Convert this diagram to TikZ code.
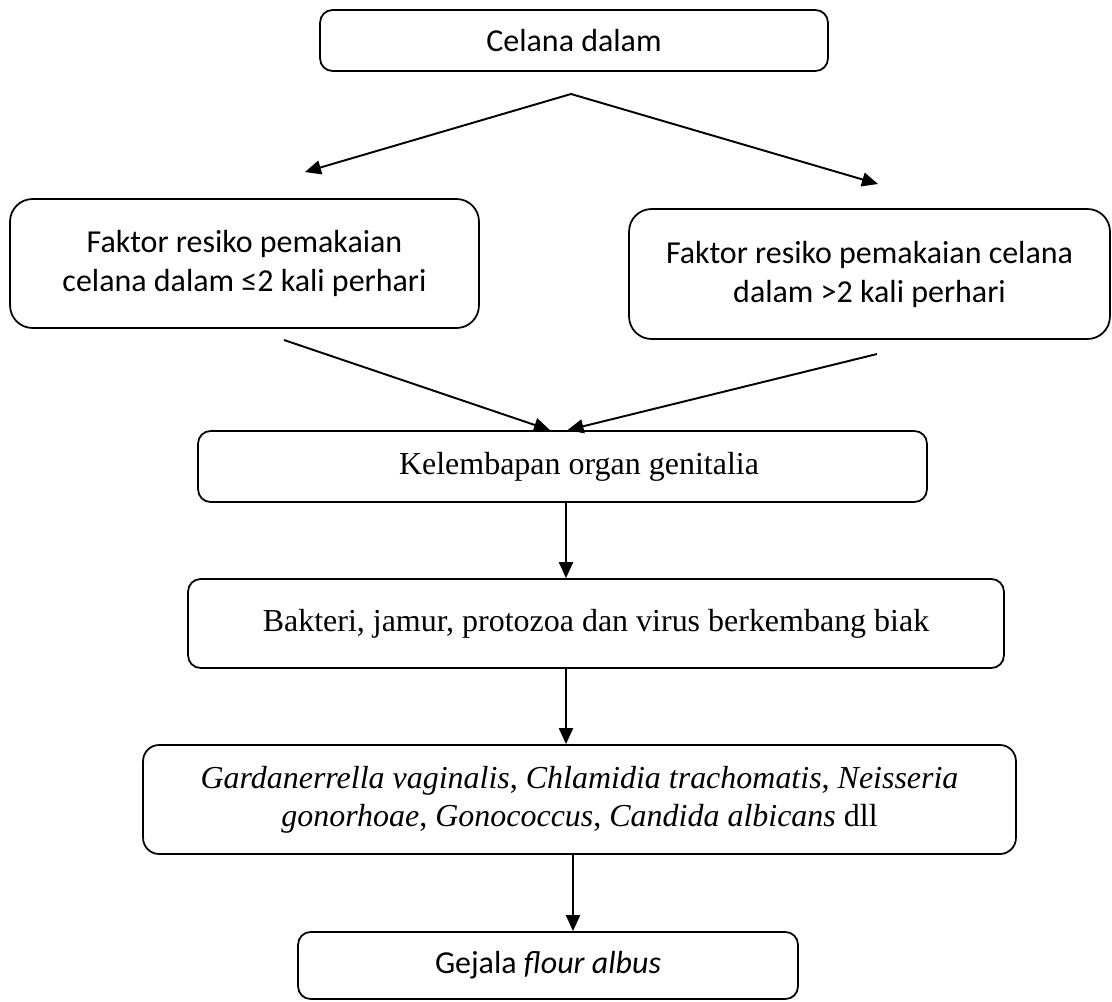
\documentclass[tikz,border=0pt]{standalone}
\usepackage{fontspec}
\setmainfont{Liberation Serif}
\newfontfamily\calibri{Carlito}
\usetikzlibrary{arrows.meta}

\begin{document}
\begin{tikzpicture}[x=0.02cm, y=-0.02cm,
    boks/.style={draw, line width=1pt, rounded corners=0.25cm, align=center, inner sep=0pt,
      font=\fontsize{18.2}{21.6}\selectfont},
    sansboks/.style={boks, font=\calibri\fontsize{18.2}{22.2}\selectfont},
    pil/.style={line width=1.1pt, -{Triangle[length=0.32cm, width=0.28cm]}}]
        \useasboundingbox (0,0) rectangle (1112,1001);

        % Bokser
        \node[sansboks, minimum width=10.16cm, minimum height=1.22cm] (celana) at (574,40.5) {Celana dalam};
        \node[sansboks, rounded corners=0.45cm, minimum width=9.38cm, minimum height=2.58cm] (faktorA) at (244.5,263.5)
            {Faktor resiko pemakaian\\celana dalam ≤2 kali perhari};
        \node[sansboks, rounded corners=0.45cm, minimum width=9.62cm, minimum height=2.6cm] (faktorB) at (869.5,274)
            {Faktor resiko pemakaian celana\\dalam >2 kali perhari};
        \node[boks, minimum width=14.58cm, minimum height=1.42cm] (kelembapan) at (562.5,466.5)
            {\hspace*{0.66cm}Kelembapan organ genitalia};
        \node[boks, minimum width=16.32cm, minimum height=1.78cm] (bakteri) at (596,623.5)
            {Bakteri, jamur, protozoa dan virus berkembang biak};
        \node[boks, rounded corners=0.32cm, minimum width=17.46cm, minimum height=2.18cm] (mikrobe) at (579.5,799.5)
            {\textit{Gardanerrella vaginalis}, \textit{Chlamidia trachomatis}, \textit{Neisseria}\\
             \textit{gonorhoae}, \textit{Gonococcus}, \textit{Candida albicans} dll};
        \node[sansboks, minimum width=10cm, minimum height=1.34cm] (gejala) at (548,965.5) {Gejala \textit{flour albus}};

        % Hjelpepunkter
        \coordinate (delt) at (571,94);
        \coordinate (tilA) at (305,172);
        \coordinate (tilB) at (878,184);
        \coordinate (fraA) at (284,340);
        \coordinate (fraB) at (877,354);
        \coordinate (akse) at (566,0);
        \coordinate (akse2) at (573,0);

        % Piler
        \draw[pil] (delt) -- (tilA);
        \draw[pil] (delt) -- (tilB);
        \draw[pil] (fraA) -- ([xshift=-0.25cm]kelembapan.north);
        \draw[pil] (fraB) -- ([xshift=0.1cm]kelembapan.north);
        \draw[pil] (kelembapan.south -| akse) -- (bakteri.north -| akse);
        \draw[pil] (bakteri.south -| akse) -- (mikrobe.north -| akse);
        \draw[pil] (mikrobe.south -| akse2) -- (gejala.north -| akse2);
    \end{tikzpicture}
\end{document}
